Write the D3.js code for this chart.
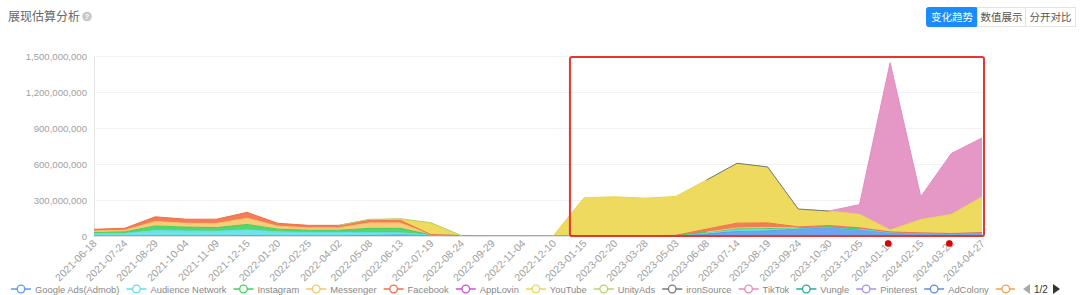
<!DOCTYPE html>
<html><head><meta charset="utf-8">
<script src="https://cdn.jsdelivr.net/npm/d3@7/dist/d3.min.js"></script>
<style>
html,body{margin:0;padding:0;background:#fff;}
svg{display:block;font-family:"Liberation Sans",Arial,"Noto Sans CJK SC",sans-serif;}
</style></head>
<body>
<svg id="chart" width="1080" height="295"></svg>
<script>
// ---- data (values in millions) ----
const dates = ["2021-06-18","2021-07-24","2021-08-29","2021-10-04","2021-11-09","2021-12-15","2022-01-20","2022-02-25","2022-04-02","2022-05-08","2022-06-13","2022-07-19","2022-08-24","2022-09-29","2022-11-04","2022-12-10","2023-01-15","2023-02-20","2023-03-28","2023-05-03","2023-06-08","2023-07-14","2023-08-19","2023-09-24","2023-10-30","2023-12-05","2024-01-10","2024-02-15","2024-03-22","2024-04-27"];
const seriesNames = ["Google Ads(Admob)","Audience Network","Instagram","Messenger","Facebook","AppLovin","YouTube","UnityAds","ironSource","TikTok","Vungle","Pinterest","AdColony","Mintegral"];
const seriesColors = ["#5b9cf0","#5ee0ea","#43d05c","#f9c56a","#f26f45","#d14fd4","#ebd64e","#b5d36f","#7a7a7a","#e28cc0","#1fae9a","#a795e4","#5f8fd6","#f4a04a"];
const googleAds       = [1,1,2,2,2,3,2,2,2,4,8,5,3,2,2,2, 2,2,3,5,18,38,42,60,72,55,28,22,18,25];
const audienceNetwork = [18,21,43,40,38,48,33,28,28,24,19,3,0,0,0,0, 0,0,0,0,8,12,12,5,3,3,2,1,1,1];
const instagram       = [10,12,39,32,30,45,22,18,18,36,37,2,0,0,0,0, 0,0,0,0,6,12,12,3,2,0,0,0,0,0];
const messenger       = [12,14,36,32,34,52,25,20,20,45,45,1,0,0,0,0, 0,0,0,0,0,5,5,0,0,0,0,0,0,0];
const facebook        = [15,16,40,34,36,49,24,21,21,27,22,1,0,0,0,0, 0,0,0,0,25,40,38,8,10,10,4,3,2,2];
const appLovin        = [0,0,0,0,0,0,0,0,0,0,0,0,0,0,0,0, 0,0,0,0,0,0,0,0,0,0,0,0,0,0];
const youTube         = [0,0,0,0,0,0,0,0,0,0,8,96,0,0,0,0, 316,325,312,325,409,496,463,146,121,113,16,112,159,298];
const unityAds        = [0,0,0,0,0,0,0,0,0,3,5,3,0,0,0,0, 0,0,0,0,0,0,0,0,0,0,0,0,0,0];
const ironSource      = [0,0,0,0,0,0,0,0,0,0,0,0,0,0,0,0, 0,0,0,0,0,3,4,3,0,0,0,0,0,0];
const tikTok          = [0,0,0,0,0,0,0,0,0,0,0,0,0,0,0,0, 0,0,0,0,0,0,0,0,0,80,1394,189,508,491];
const vungle          = [0,0,0,0,0,0,0,0,0,0,0,0,0,0,0,0, 0,0,0,0,0,0,0,0,0,0,0,0,0,0];
const pinterest       = [0,0,0,0,0,0,0,0,0,0,0,0,0,0,0,0, 0,0,0,0,0,0,0,0,0,0,0,0,0,0];
const adColony        = [0,0,0,0,0,0,0,0,0,0,0,0,0,0,0,0, 0,0,0,0,0,0,0,0,0,0,0,0,0,0];
const mintegral       = [0,0,0,0,0,0,0,0,0,0,0,0,0,0,0,0, 0,0,0,0,0,0,0,0,0,0,0,0,0,0];
const seriesValues = [googleAds,audienceNetwork,instagram,messenger,facebook,appLovin,youTube,unityAds,ironSource,tikTok,vungle,pinterest,adColony,mintegral];
const yTicks = [0,300,600,900,1200,1500];
const markedDates = ["2024-01-10","2024-03-22"];
const boxStart = "2023-01-15", boxEnd = "2024-04-27";

const svg = d3.select("#chart");
const x = d3.scalePoint().domain(dates).range([94, 982]);
const y = d3.scaleLinear().domain([0,1500]).range([236, 56]);

// title
svg.append("text").attr("x",8).attr("y",21).attr("font-size",12).attr("fill","#666")
  .attr("font-family","'Noto Sans CJK SC',sans-serif").text("展现估算分析");
svg.append("circle").attr("cx",87).attr("cy",16.5).attr("r",4.8).attr("fill","#c8c8c8");
svg.append("text").attr("x",87).attr("y",19.3).attr("text-anchor","middle").attr("font-size",7.5).attr("fill","#fff").attr("font-weight","bold").text("?");

// buttons
const btns = [{t:"变化趋势",x:926,w:51,active:true},{t:"数值展示",x:977,w:48},{t:"分开对比",x:1025,w:50}];
btns.forEach(b=>{
  svg.append("rect").attr("x",b.x+0.5).attr("y",7.5).attr("width",b.w).attr("height",19).attr("rx",b.active?2:0)
    .attr("fill",b.active?"#1a8cff":"#fff").attr("stroke",b.active?"#1a8cff":"#e3e3e3");
  svg.append("text").attr("x",b.x+b.w/2+0.5).attr("y",21).attr("text-anchor","middle").attr("font-size",10.5)
    .attr("font-family","'Noto Sans CJK SC',sans-serif").attr("fill",b.active?"#fff":"#555").text(b.t);
});

// grid + y axis
const yAxis = d3.axisLeft(y).tickValues(yTicks).tickSize(0).tickPadding(7)
  .tickFormat(v=>d3.format(",")(v*1e6));
const gy = svg.append("g").attr("transform","translate(94,0)").call(yAxis);
gy.select(".domain").attr("stroke","#e6e6e6");
gy.selectAll("text").attr("fill","#a0a0a0").attr("font-size",9.6).attr("font-family","'Liberation Sans',Arial,sans-serif");
svg.append("g").selectAll("line").data(yTicks.filter(v=>v>0)).join("line")
  .attr("x1",94).attr("x2",982).attr("y1",d=>y(d)+0.5).attr("y2",d=>y(d)+0.5).attr("stroke","#f2f2f2");

// stacked areas
const rows = dates.map((d,i)=>{const r={date:d}; seriesNames.forEach((n,k)=>r[n]=seriesValues[k][i]); return r;});
const stacked = d3.stack().keys(seriesNames)(rows);
const area = d3.area().x(d=>x(d.data.date)).y0(d=>y(d[0])).y1(d=>y(d[1]));
const plot = svg.append("g");
stacked.forEach((s,k)=>{
  const vals = seriesValues[k];
  if (d3.sum(vals)===0) return;
  plot.append("path").datum(s).attr("d",area).attr("fill",seriesColors[k]).attr("fill-opacity",0.9);
});
stacked.forEach((s,k)=>{
  const vals = seriesValues[k];
  if (d3.sum(vals)===0) return;
  const line = d3.line().defined((d,i)=>vals[i]>0||(i>0&&vals[i-1]>0)||(i<vals.length-1&&vals[i+1]>0))
    .x(d=>x(d.data.date)).y(d=>y(d[1]));
  plot.append("path").datum(s).attr("d",line).attr("fill","none").attr("stroke",seriesColors[k]).attr("stroke-width",1);
});

// x axis
const xAxis = d3.axisBottom(x).tickSize(0).tickPadding(0);
const gx = svg.append("g").attr("transform","translate(0,236)").call(xAxis);
gx.select(".domain").attr("stroke","#e0e0e0");
gx.selectAll("text").attr("fill","#a0a0a0").attr("font-size",10.5).attr("font-family","'Liberation Sans',Arial,sans-serif")
  .attr("text-anchor","end").attr("dy",0).attr("transform","translate(3,8) rotate(-45)");

// annotations
svg.append("rect").attr("x",x(boxStart)-14).attr("y",y(1500)+1).attr("width",x(boxEnd)+2-(x(boxStart)-14))
  .attr("height",y(0)-y(1500)-1).attr("rx",2).attr("fill","none").attr("stroke","#e8352f").attr("stroke-width",2);
svg.append("g").selectAll("circle").data(markedDates).join("circle")
  .attr("cx",d=>x(d)-2).attr("cy",243.5).attr("r",3.3).attr("fill","#e00000");

// legend (scrollable, page 1 clipped)
const clipW = 1015;
svg.append("clipPath").attr("id","lgclip").append("rect").attr("x",0).attr("y",275).attr("width",clipW).attr("height",20);
const lg = svg.append("g").attr("clip-path","url(#lgclip)");
let lx = 11;
seriesNames.forEach((n,k)=>{
  if (lx >= clipW) return;
  const g = lg.append("g").attr("transform",`translate(${lx},289)`);
  g.append("line").attr("x1",0).attr("x2",20).attr("y1",0).attr("y2",0).attr("stroke",seriesColors[k]).attr("stroke-width",1.5);
  g.append("circle").attr("cx",10).attr("cy",0).attr("r",3.8).attr("fill","#fff").attr("stroke",seriesColors[k]).attr("stroke-width",1.3);
  if (lx + 24 < clipW) {
    const t = g.append("text").attr("x",24).attr("y",3.5).attr("font-size",9.4).attr("fill","#888").text(n);
    lx += 24 + t.node().getComputedTextLength() + 7;
  } else lx = clipW;
});
// pager
svg.append("path").attr("d","M1030,284 L1023,289 L1030,294 Z").attr("fill","#aaa");
svg.append("text").attr("x",1034).attr("y",292.5).attr("font-size",10).attr("fill","#333").text("1/2");
svg.append("path").attr("d","M1053,284 L1060,289 L1053,294 Z").attr("fill","#333");
</script>
</body></html>
